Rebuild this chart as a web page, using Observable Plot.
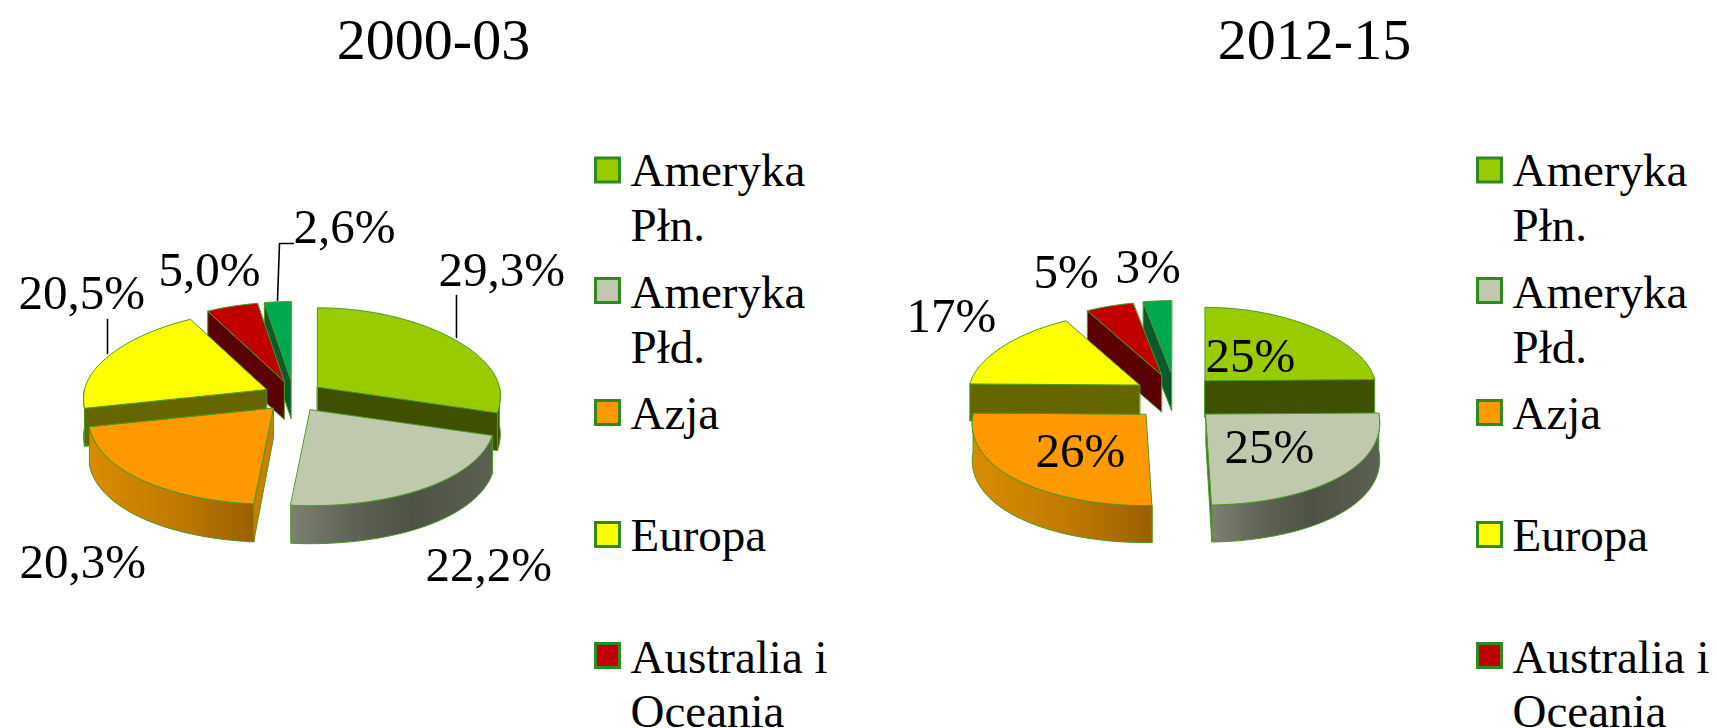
<!DOCTYPE html>
<html lang="pl">
<head>
<meta charset="utf-8">
<title>2000-03 / 2012-15</title>
<style>
html,body{margin:0;padding:0;background:#fff;overflow:hidden}
svg{display:block}
</style>
<script src="https://cdn.jsdelivr.net/npm/d3@7"></script>
<script src="https://cdn.jsdelivr.net/npm/@observablehq/plot@0.6"></script>
</head>
<body>
<div id="chart"></div>
<script>
// ---- data ----
const categories = ["Ameryka Płn.", "Ameryka Płd.", "Azja", "Europa", "Australia i Oceania", "Afryka"];
const values2000 = [29.3, 22.2, 20.3, 20.5, 5.0, 2.6];
const values2012 = [25, 25, 26, 17, 5, 3];
const labels2000 = ["29,3%", "22,2%", "20,3%", "20,5%", "5,0%", "2,6%"];
const labels2012 = ["25%", "25%", "26%", "17%", "5%", "3%"];
const titles = ["2000-03", "2012-15"];
const legendLines = [
  ["Ameryka", "Płn."],
  ["Ameryka", "Płd."],
  ["Azja"],
  ["Europa"],
  ["Australia i", "Oceania"]
];

// ---- styles ----
const topColors = ["#99cc00", "#c0c8ad", "#ff9900", "#ffff00", "#c00000", "#00a94f"];
const cutColors = ["#3f5000", "#5a5e50", "#c98000", "#666600", "#5a0000", "#0a5a30"];
const wallFills = ["#3f5000", "url(#wallGray)", "url(#wallOrange)", "#666600", "#5a0000", "#0a5a30"];
const edge = "#4a9a22";
const drawOrder = [5, 4, 3, 0, 2, 1];
const serif = "Liberation Serif, Times New Roman, serif";

// ---- layout ----
const pies = [
  {values: values2000, cx: 293, cy: 396, rxBack: 182, rxFront: 184, ryBack: 79, ryFront: 96, ex: 30, ey: 16, depth: 38, frontCut: 30},
  {values: values2012, cx: 1175, cy: 397, rxBack: 170, rxFront: 173, ryBack: 73, ryFront: 91, ex: 42, ey: 24, depth: 37, frontCut: 30}
];
const perspective = 0.1;
const titleAnchors = [[433, 58], [1314, 58]];
const labelAnchors2000 = [[438, 285], [425, 580], [19, 577], [18, 308], [158, 285], [293, 242]];
const labelAnchors2012 = [[1205, 371], [1224, 462], [1035, 466], [906, 331], [1033, 287], [1115, 282]];
const leaders = [
  [[277, 300], [279, 243], [293, 243]],
  [[456, 295], [456, 337]],
  [[107, 319], [107, 353]]
];
const legendColumns = [{swatch: 607, text: 630}, {swatch: 1489, text: 1512}];
const legendSwatchY = [169.5, 290, 412, 534, 655];
const legendBaselines = [[185, 240], [307, 362], [428], [550], [672, 726]];

// ---- geometry derived from the values ----
const rad = Math.PI / 180;
function piePolygons(p) {
  const total = d3.sum(p.values);
  let acc = 0;
  const slices = p.values.map((v, i) => {
    const a0 = acc / total * 360; acc += v;
    const a1 = acc / total * 360;
    return {i, a0, a1};
  });
  const polys = [];
  for (const k of drawOrder) {
    const {i, a0, a1} = slices[k];
    const mid = (a0 + a1) / 2 * rad;
    const ax = p.cx + p.ex * Math.sin(mid);
    const ay = p.cy - p.ey * Math.cos(mid);
    const front = Math.cos(mid) < 0;
    const rx = front ? p.rxFront : p.rxBack;
    const pt = a => {
      const t = a * rad, c = Math.cos(t);
      return [ax + rx * Math.sin(t) * (1 - perspective * c), ay - (c > 0 ? p.ryBack : p.ryFront) * c];
    };
    const down = q => [q[0], q[1] + p.depth];
    const arc = (s, e) => {
      const out = [];
      const n = Math.max(2, Math.ceil((e - s) / 2));
      for (let j = 0; j <= n; ++j) out.push(pt(s + (e - s) * j / n));
      return out;
    };
    // outer wall (front half only)
    const ws = Math.max(a0, 90), we = Math.min(a1, 270);
    if (we > ws) {
      const rim = arc(ws, we);
      polys.push({pts: [...rim, ...rim.slice().reverse().map(down)], fill: wallFills[i]});
    }
    // cut faces turned towards the viewer
    const apex = [ax, ay];
    const apexDown = [ax, ay + (front ? p.frontCut : p.depth)];
    if (Math.sin(a1 * rad) > 0) {
      const r = pt(a1);
      polys.push({pts: [apex, r, down(r), apexDown], fill: cutColors[i]});
    }
    if (Math.sin(a0 * rad) < 0) {
      const r = pt(a0);
      polys.push({pts: [apex, r, down(r), apexDown], fill: cutColors[i]});
    }
    // top face
    polys.push({pts: [apex, ...arc(a0, a1)], fill: topColors[i]});
  }
  return polys;
}

function gradient(defs, id, stops) {
  const g = defs.append("linearGradient").attr("id", id).attr("x1", 0).attr("x2", 1).attr("y1", 0).attr("y2", 0);
  for (const [o, c] of stops) g.append("stop").attr("offset", o).attr("stop-color", c);
}
const defsMark = () => {
  const defs = d3.create("svg:defs");
  gradient(defs, "wallGray", [[0, "#7d8072"], [0.3, "#5f6355"], [0.6, "#4e5245"], [1, "#5c6052"]]);
  gradient(defs, "wallOrange", [[0, "#d88c00"], [0.5, "#c27c00"], [1, "#9a6000"]]);
  return defs.node();
};

// ---- marks ----
const pieMarks = pies.flatMap(piePolygons).map(poly =>
  Plot.line(poly.pts, {
    x: d => d[0], y: d => d[1],
    curve: "linear-closed",
    fill: poly.fill, stroke: edge, strokeWidth: 1, strokeLinejoin: "round"
  })
);

const textRows = [
  ...titles.map((t, i) => ({t, x: titleAnchors[i][0], y: titleAnchors[i][1], size: 58, anchor: "middle"})),
  ...labels2000.map((t, i) => ({t, x: labelAnchors2000[i][0], y: labelAnchors2000[i][1], size: 49, anchor: "start"})),
  ...labels2012.map((t, i) => ({t, x: labelAnchors2012[i][0], y: labelAnchors2012[i][1], size: 49, anchor: "start"})),
  ...legendColumns.flatMap(col => legendLines.flatMap((lines, i) => lines.map((t, j) => ({
    t, x: col.text, y: legendBaselines[i][j], size: 47, anchor: "start"
  }))))
];
const textMarks = d3.groups(textRows, d => d.size + d.anchor).map(([, rows]) =>
  Plot.text(rows, {
    x: "x", y: "y", text: "t",
    fontSize: rows[0].size, textAnchor: rows[0].anchor, lineAnchor: "bottom",
    fontFamily: serif, fill: "#000"
  })
);

const swatchRows = legendColumns.flatMap(col => legendSwatchY.map((y, i) => ({x: col.swatch, y, c: topColors[i]})));

const chart = Plot.plot({
  width: 1718, height: 728, margin: 0,
  x: {domain: [0, 1718], range: [0, 1718], axis: null},
  y: {domain: [0, 728], range: [0, 728], axis: null},
  style: {background: "#fff", fontFamily: serif},
  marks: [
    defsMark,
    ...leaders.map(l => Plot.line(l, {x: d => d[0], y: d => d[1], stroke: "#000", strokeWidth: 1.6})),
    ...pieMarks,
    Plot.dot(swatchRows, {x: "x", y: "y", r: 13.5, symbol: "square", fill: d => d.c, stroke: "#2f8a1e", strokeWidth: 3}),
    ...textMarks
  ],
  color: {type: "identity"}
});
document.getElementById("chart").append(chart);
</script>
</body>
</html>
